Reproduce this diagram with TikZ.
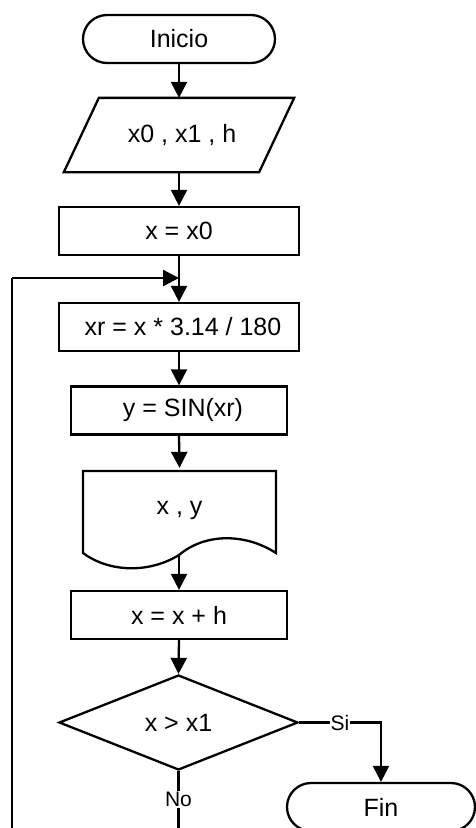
\documentclass[tikz,border=0pt]{standalone}
\usepackage{fontspec}
\setmainfont{Liberation Sans}
\usetikzlibrary{arrows.meta,shapes.geometric}
\tikzset{
  base/.style={line width=2.3pt, font=\fontsize{25pt}{29pt}\selectfont, inner sep=0pt},
  term/.style={base, draw, rectangle, rounded corners=24pt, minimum height=48pt},
  procbox/.style={base, draw, rectangle, minimum height=48pt},
  plain/.style={base, draw=none, rectangle},
  decide/.style={base, draw, diamond, minimum width=239pt, minimum height=95pt},
  shapeline/.style={line width=2.3pt, line join=miter},
  arrow/.style={line width=2.3pt, -{Triangle[length=16pt,width=16pt]}},
  conn/.style={line width=2.3pt},
  lbl/.style={fill=white, inner sep=1pt, font=\fontsize{21pt}{25pt}\selectfont}
}
\begin{document}
\begin{tikzpicture}[x=1pt,y=-1pt]
\useasboundingbox (0,0) rectangle (476,828);
\clip (0,0) rectangle (476,828);
\fill[white] (0,0) rectangle (476,828);

% nodes
\node[term, minimum width=192pt] (start) at (179,39) {Inicio};
\node[plain, minimum width=193pt, minimum height=72pt] (in) at (179,135) {\hspace*{6pt}x0 , x1 , h};
\draw[shapeline] ([xshift=17.5pt]in.north west) -- ([xshift=17.5pt]in.north east)
  -- ([xshift=-17.5pt]in.south east) -- ([xshift=-17.5pt]in.south west) -- cycle;
\node[procbox, minimum width=240pt] (init) at (179,231) {x = x0};
\coordinate (merge) at (179,278);
\node[procbox, minimum width=240pt] (xr) at (179,327) {\hspace*{8pt}xr = x * 3.14 / 180};
\node[procbox, minimum width=216pt] (ysin) at (179,410.5) {\hspace*{8pt}y = SIN(xr)};
\node[plain, minimum width=193pt, minimum height=82pt] (doc) at (179.5,510) {x , y};
\draw[shapeline] (83,553) -- (83,471) -- (276,471) -- (276,553)
  .. controls (245,533) and (205,533) .. (179,555)
  .. controls (150,573) and (110,573) .. (83,553) -- cycle;
\coordinate (docb) at (179,555);
\node[procbox, minimum width=216pt] (xh) at (179,615) {x = x + h};
\node[decide] (dec) at (178.5,722.5) {x > x1};
\node[term, minimum width=188pt] (fin) at (381,807) {Fin};
\coordinate (loopbot) at (12,850);
\coordinate (loopleft) at (12,278);

% connectors
\draw[arrow] (start.south) -- (in.north);
\draw[arrow] (in.south) -- (init.north);
\draw[arrow] (init.south) -- (xr.north);
\draw[arrow] (xr.south) -- (ysin.north);
\draw[arrow] (ysin.south) -- (doc.north);
\draw[arrow] (docb) -- (xh.north);
\draw[arrow] (xh.south) -- (dec.north);
\draw[arrow] (dec.east) -- node[lbl] {Si} (dec.east -| fin.north) -- (fin.north);
\draw[conn] (dec.south) -- node[lbl, pos=0.36] {No} (dec.south |- loopbot) -- (loopbot) -- (loopleft);
\draw[arrow] (loopleft) -- (merge);
\end{tikzpicture}
\end{document}
